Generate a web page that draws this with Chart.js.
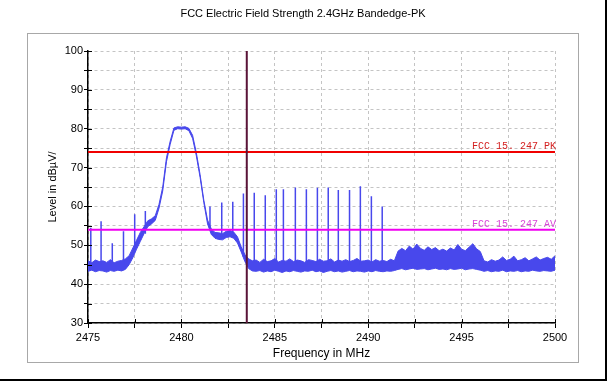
<!DOCTYPE html>
<html>
<head>
<meta charset="utf-8">
<script src="https://cdn.jsdelivr.net/npm/chart.js@4.4.0/dist/chart.umd.min.js"></script>
<style>
  html, body { margin: 0; padding: 0; background: #fff; }
  #wrap { width: 607px; height: 381px; }
</style>
</head>
<body>
<div id="wrap"><canvas id="emiChart" width="607" height="381"></canvas></div>
<script>
// chart texts
const chartTitle = 'FCC Electric Field Strength 2.4GHz Bandedge-PK';
const xTitle = 'Frequency in MHz';
const yTitle = 'Level in dBµV/';
const labelPK = 'FCC 15. 247 PK';
const labelAV = 'FCC 15. 247 AV';

// tick labels
const xTickLabels = [2475, 2480, 2485, 2490, 2495, 2500];
const yTickLabels = [30, 40, 50, 60, 70, 80, 90, 100];

// sweep grid (MHz), one reading every 0.2 MHz from 2475 to 2500
const sweepStart = 2475.0;
const sweepStep = 0.2;

// upper edge of the noisy trace, dBµV/m
const traceHigh = [
  46.0, 45.5, 46.2, 45.8, 46.0, 45.6, 46.3, 45.5, 45.9, 46.1, 46.5,
  47.3, 49.3, 51.3, 53.3, 54.8, 56.3, 56.8, 57.6, 60.5, 65.0, 72.5, 76.8, 80.2, 80.5, 80.4, 80.5, 80.1,
  78.3, 73.8, 68.2, 61.6, 56.5, 54.2, 53.3, 53.2, 53.0, 53.6, 53.8, 53.4, 52.2, 49.6, 47.6, 46.5, 46.0,
  46.2, 45.6, 46.4, 45.8, 46.0, 46.6, 45.7, 46.1, 45.9, 46.5, 45.8, 46.2, 46.0, 45.6, 46.3, 46.1, 45.8,
  46.4, 45.9, 46.0, 46.5, 45.7, 46.2, 45.9, 46.3, 45.8, 46.1, 46.6, 45.9, 46.0, 46.2, 45.7, 46.3, 45.9,
  46.1, 45.8, 46.4, 46.0,
  48.5, 49.2, 48.6, 49.8, 49.0, 50.3, 49.2, 48.7, 49.6, 48.9, 49.4, 48.6, 49.0, 48.5, 49.3, 48.8, 50.2,
  49.0, 48.6, 49.5, 50.4, 49.1, 48.4,
  46.0, 45.7, 46.3, 45.9, 46.2, 47.0, 46.1, 46.4, 47.2, 46.0, 46.3, 46.8, 46.0, 46.5, 47.0, 46.2, 46.6,
  46.9, 46.4, 47.3
];

// lower edge of the noisy trace, dBµV/m
const traceLow = [
  43.3, 43.6, 43.2, 43.5, 43.4, 43.1, 43.5, 43.3, 43.6, 43.4, 43.8,
  45.0, 46.8, 49.0, 51.0, 53.0, 54.8, 55.5, 56.4, 59.5, 64.0, 71.5, 76.0, 79.6, 80.0, 79.9, 80.0, 79.5,
  77.5, 73.0, 67.5, 61.0, 55.5, 52.8, 51.8, 51.5, 51.4, 52.0, 52.2, 51.8, 50.6, 48.3, 45.8, 44.0, 43.4,
  43.3, 43.5, 43.1, 43.4, 43.2, 43.6, 43.3, 43.0, 43.4, 43.2, 43.5, 43.3, 43.1, 43.4, 43.3, 43.6, 43.2,
  43.4, 43.0, 43.3, 43.5, 43.2, 43.4, 43.1, 43.3, 43.5, 43.2, 43.4, 43.3, 43.1, 43.4, 43.2, 43.5, 43.3,
  43.2, 43.4, 43.3, 43.5,
  43.8, 44.0, 43.7, 43.9, 44.1, 43.8, 43.9, 44.0, 43.7, 43.9, 44.1, 43.8, 43.9, 43.7, 44.0, 43.8, 43.9,
  44.1, 43.7, 43.9, 44.0, 43.8, 43.6,
  43.3, 43.5, 43.2, 43.4, 43.3, 43.6, 43.2, 43.4, 43.3, 43.5, 43.2, 43.4, 43.3, 43.6, 43.4, 43.3, 43.5,
  43.4, 43.3, 43.6
];

// narrow spurious spikes: frequency, top level, foot level
const spikeFreq = [2475.15, 2475.7, 2476.3, 2476.9, 2477.5, 2478.07, 2481.53, 2482.16, 2482.75, 2483.32,
  2483.9, 2484.49, 2485.08, 2485.46, 2486.1, 2486.69, 2487.28, 2487.86, 2488.4, 2489.0, 2489.58, 2490.17, 2490.75];
const spikeLevel = [54.5, 56.2, 50.5, 53.6, 58.0, 58.8, 60.0, 61.0, 61.2, 63.3,
  63.5, 62.9, 64.4, 64.4, 64.9, 64.4, 64.8, 64.9, 64.2, 64.2, 65.2, 62.6, 60.0];
const spikeFoot = [45, 45, 45, 45, 50, 53, 54, 52, 52, 47,
  45, 45, 45, 45, 45, 45, 45, 45, 45, 45, 45, 45, 45];

const limitPK = 74;
const limitAV = 54;
const markerFreq = 2483.5;

const xMin = 2475, xMax = 2500;
const yMin = 30, yMax = 100;

const blue = 'rgb(72, 72, 236)';

function sweepPoints(values) {
    return values.map((v, i) => ({ x: +(sweepStart + i * sweepStep).toFixed(2), y: v }));
}

function spikePoints() {
    let pts = [];
    spikeFreq.forEach((f, i) => {
        pts.push({ x: f, y: spikeFoot[i] });
        pts.push({ x: f, y: spikeLevel[i] });
        pts.push({ x: f, y: null });
    });
    return pts;
}

// frame, title, inner tick marks and limit captions
const decorPlugin = {
    id: 'decor',
    beforeDraw(chart) {
        const ctx = chart.ctx;
        ctx.save();
        ctx.fillStyle = '#fff';
        ctx.fillRect(0, 0, chart.width, chart.height);
        ctx.strokeStyle = '#a8a8a8';
        ctx.lineWidth = 1;
        ctx.strokeRect(27.5, 33.5, 551, 329);
        ctx.fillStyle = '#000';
        ctx.fillRect(605, 0, 2, chart.height);
        ctx.fillRect(0, 379, chart.width, 2);
        ctx.font = '11px "Liberation Sans", Arial, sans-serif';
        ctx.textAlign = 'center';
        ctx.textBaseline = 'middle';
        ctx.fillText(chartTitle, 303, 14);
        ctx.restore();
    },
    afterDatasetsDraw(chart) {
        const { ctx, scales: { x, y } } = chart;
        ctx.save();
        ctx.strokeStyle = '#000';
        ctx.lineWidth = 1;
        ctx.beginPath();
        y.ticks.forEach(t => {
            const py = Math.round(y.getPixelForValue(t.value)) + 0.5;
            ctx.moveTo(x.left, py);
            ctx.lineTo(x.left + 4, py);
        });
        x.ticks.forEach(t => {
            const px = Math.round(x.getPixelForValue(t.value)) + 0.5;
            ctx.moveTo(px, y.bottom);
            ctx.lineTo(px, y.bottom - 4);
        });
        ctx.stroke();

        ctx.font = '10px "Liberation Mono", "DejaVu Sans Mono", monospace';
        ctx.textAlign = 'right';
        ctx.textBaseline = 'alphabetic';
        ctx.fillStyle = '#d42020';
        ctx.fillText(labelPK, x.right + 1, y.getPixelForValue(limitPK) - 3);
        ctx.fillStyle = '#d844d8';
        ctx.fillText(labelAV, x.right + 1, y.getPixelForValue(limitAV) - 3);
        ctx.restore();
    }
};

Chart.defaults.font.family = '"Liberation Sans", Arial, sans-serif';
Chart.defaults.font.size = 11;
Chart.defaults.color = '#000';

const ctx = document.getElementById('emiChart').getContext('2d');
const chart = new Chart(ctx, {
    type: 'line',
    data: {
        datasets: [
            {
                label: 'marker',
                data: [{ x: markerFreq, y: yMin }, { x: markerFreq, y: yMax }],
                borderColor: '#5a1438',
                borderWidth: 2
            },
            {
                label: 'FCC 15.247 PK',
                data: [{ x: xMin, y: limitPK }, { x: xMax, y: limitPK }],
                borderColor: '#f00000',
                borderWidth: 2
            },
            {
                label: 'FCC 15.247 AV',
                data: [{ x: xMin, y: limitAV }, { x: xMax, y: limitAV }],
                borderColor: '#f000f0',
                borderWidth: 2
            },
            {
                label: 'spikes',
                data: spikePoints(),
                borderColor: blue,
                borderWidth: 1.5,
                spanGaps: false
            },
            {
                label: 'trace high',
                data: sweepPoints(traceHigh),
                borderColor: blue,
                backgroundColor: blue,
                borderWidth: 1,
                fill: '+1'
            },
            {
                label: 'trace low',
                data: sweepPoints(traceLow),
                borderColor: blue,
                borderWidth: 1,
                fill: false
            }
        ]
    },
    options: {
        responsive: false,
        animation: false,
        events: [],
        elements: {
            point: { radius: 0 },
            line: { tension: 0 }
        },
        layout: { padding: { top: 51, right: 52, left: 0, bottom: 0 } },
        plugins: {
            legend: { display: false },
            tooltip: { enabled: false },
            title: { display: false }
        },
        scales: {
            x: {
                type: 'linear',
                min: xMin,
                max: xMax,
                grid: { color: '#c4c4c4', tickColor: '#000', tickLength: 5, drawTicks: true },
                border: { color: '#000', width: 1.5, dash: [3, 3] },
                ticks: {
                    stepSize: 2.5,
                    autoSkip: false,
                    maxRotation: 0,
                    padding: 3,
                    callback: v => xTickLabels.includes(v) ? String(v) : ''
                },
                title: { display: true, text: xTitle, font: { size: 12 }, padding: { top: 0, bottom: 20 } },
                afterFit(scale) { scale.height = 58; }
            },
            y: {
                min: yMin,
                max: yMax,
                grid: { color: '#c4c4c4', tickColor: '#000', tickLength: 4, drawTicks: true },
                border: { color: '#000', width: 1.5, dash: [3, 3] },
                ticks: {
                    stepSize: 5,
                    autoSkip: false,
                    padding: 1,
                    callback: v => yTickLabels.includes(v) ? String(v) : ''
                },
                title: { display: true, text: yTitle, font: { size: 11 }, padding: { top: 46, bottom: 0 } },
                afterFit(scale) { scale.width = 88; }
            }
        }
    },
    plugins: [decorPlugin]
});
</script>
</body>
</html>
